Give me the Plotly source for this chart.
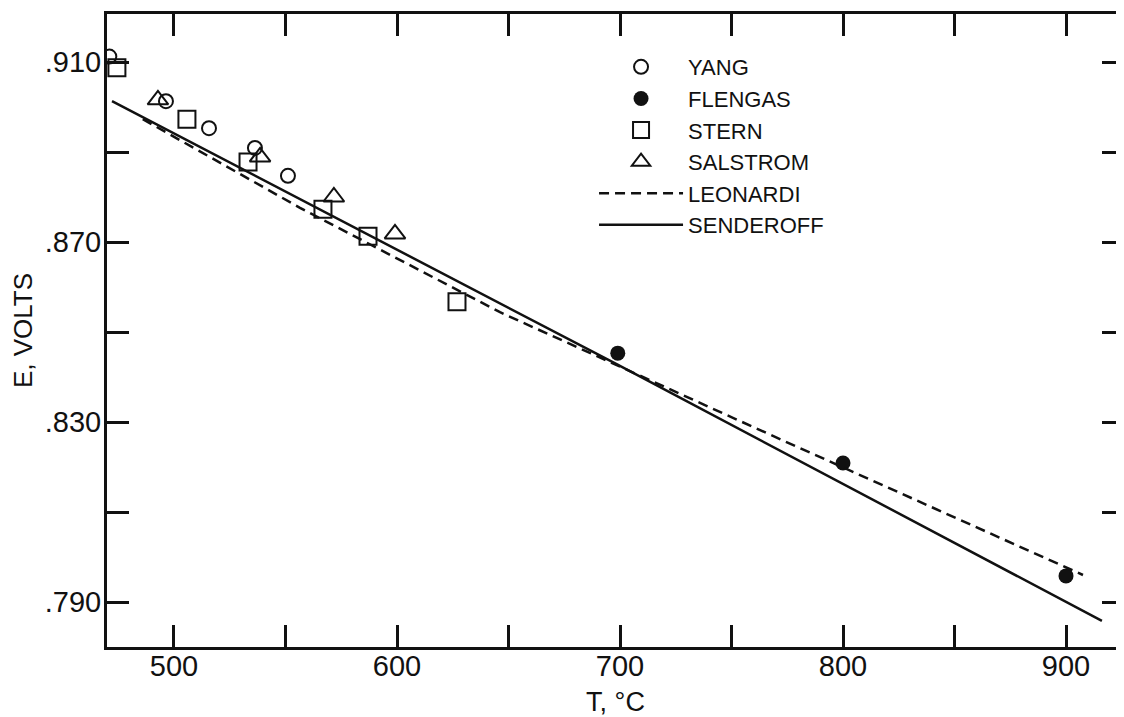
import plotly.graph_objects as go

# ---- data ----
yang_T = [471, 496.4, 515.7, 536.3, 551.1]
yang_E = [0.9112, 0.9013, 0.8953, 0.8909, 0.8847]

flengas_T = [699, 800, 900]
flengas_E = [0.8453, 0.8209, 0.7958]

stern_T = [474.4, 505.8, 533.2, 566.8, 587.0, 626.9]
stern_E = [0.9087, 0.8973, 0.8878, 0.8773, 0.8713, 0.8567]

salstrom_T = [492.8, 538.6, 571.7, 599.1]
salstrom_E = [0.9016, 0.8889, 0.8800, 0.8718]

leonardi_T = [486, 556.5, 646.2, 713.5, 771.7, 907.6]
leonardi_E = [0.8973, 0.8776, 0.8544, 0.8393, 0.8262, 0.7960]

senderoff_T = [472.2, 698.7, 916.1]
senderoff_E = [0.9013, 0.8428, 0.7858]

x_tickvals = [500, 550, 600, 650, 700, 750, 800, 850, 900]
x_ticktext = ["500", "", "600", "", "700", "", "800", "", "900"]
y_tickvals = [0.79, 0.81, 0.83, 0.85, 0.87, 0.89, 0.91]
y_ticktext = [".790", "", ".830", "", ".870", "", ".910"]

FONT = "Liberation Sans, Arial, sans-serif"
BLACK = "#111111"

fig = go.Figure()

fig.add_trace(go.Scatter(
    x=yang_T, y=yang_E, mode="markers", name="YANG",
    marker=dict(symbol="circle-open", size=14, color=BLACK, line=dict(width=2))))
fig.add_trace(go.Scatter(
    x=flengas_T, y=flengas_E, mode="markers", name="FLENGAS",
    marker=dict(symbol="circle", size=15, color=BLACK)))
fig.add_trace(go.Scatter(
    x=stern_T, y=stern_E, mode="markers", name="STERN",
    marker=dict(symbol="square-open", size=17, color=BLACK, line=dict(width=2))))
fig.add_trace(go.Scatter(
    x=salstrom_T, y=salstrom_E, mode="markers", name="SALSTROM",
    marker=dict(symbol="triangle-up-open", size=18, color=BLACK, line=dict(width=2))))
fig.add_trace(go.Scatter(
    x=leonardi_T, y=leonardi_E, mode="lines", name="LEONARDI",
    line=dict(color=BLACK, width=2.5, dash="10px,6px")))
fig.add_trace(go.Scatter(
    x=senderoff_T, y=senderoff_E, mode="lines", name="SENDEROFF",
    line=dict(color=BLACK, width=2.5)))

axis_common = dict(
    showline=True, linecolor=BLACK, linewidth=3, mirror="ticks",
    ticks="inside", ticklen=22, tickwidth=2.5, tickcolor=BLACK,
    showgrid=False, zeroline=False, automargin=False,
    tickfont=dict(family=FONT, size=29, color=BLACK),
)

# the page body adds an 8px offset; the figure is sized to fill the rest
fig.update_layout(
    width=1116, height=709,
    margin=dict(l=99, r=0, t=6, b=70),
    paper_bgcolor="white", plot_bgcolor="white",
    font=dict(family=FONT, color=BLACK),
    xaxis=dict(range=[469.96, 926.0], tickmode="array", tickvals=x_tickvals,
               ticktext=x_ticktext, ticklabelstandoff=-9,
               title=dict(text="T, °C", font=dict(family=FONT, size=27, color=BLACK)),
               **axis_common),
    yaxis=dict(range=[0.780, 0.92067], tickmode="array", tickvals=y_tickvals,
               ticktext=y_ticktext, ticklabelstandoff=-3,
               title=dict(text="E, VOLTS", font=dict(family=FONT, size=26, color=BLACK)),
               **axis_common),
    legend=dict(x=0.4789, y=0.9494, xanchor="left", yanchor="top",
                bgcolor="rgba(0,0,0,0)", borderwidth=0,
                font=dict(family=FONT, size=22, color=BLACK),
                itemwidth=84, tracegroupgap=0),
    showlegend=True,
)

fig.write_html("out.html")
